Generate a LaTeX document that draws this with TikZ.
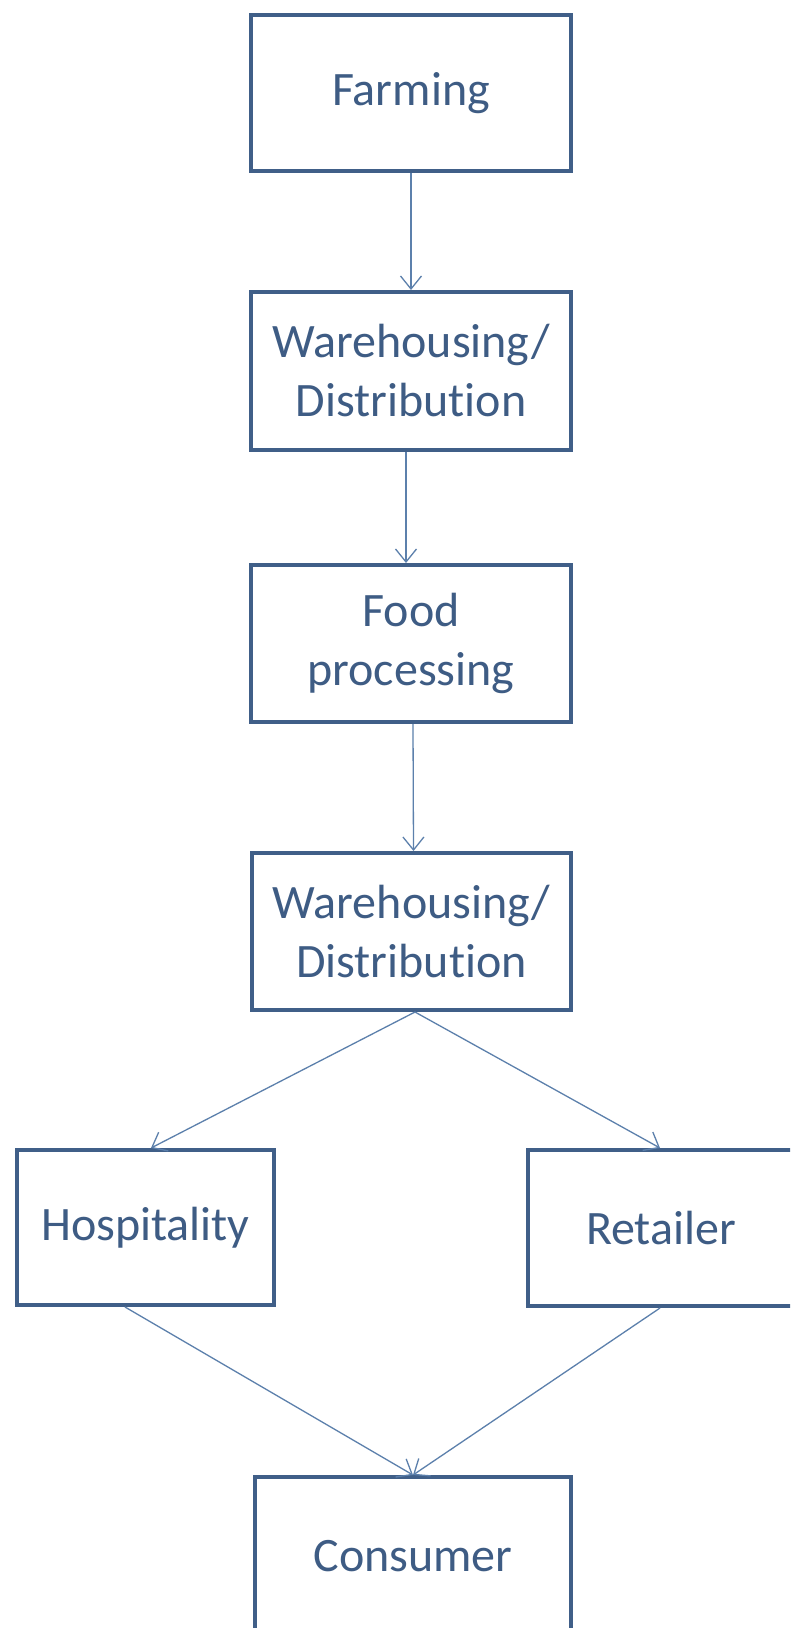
\documentclass[tikz,border=0pt]{standalone}
\usepackage{fontspec}
\setmainfont{Carlito}[Ligatures={NoCommon,NoContextual}]
\usetikzlibrary{arrows.meta}
\definecolor{boxline}{RGB}{64,95,136}
\definecolor{boxtext}{RGB}{62,92,132}
\definecolor{flowline}{RGB}{92,128,172}
\begin{document}
\begin{tikzpicture}[x=1pt,y=-1pt,
  stage/.style={draw=boxline,line width=4pt,fill=white,text=boxtext,
    align=center,inner sep=0pt,
    font=\fontsize{48}{59}\selectfont},
  flow/.style={draw=flowline,line width=1.3pt,
    -{Straight Barb[length=13pt,width=21pt,line width=1.3pt]}}]
\useasboundingbox (0,0) rectangle (790,1628);
\clip (0,0) rectangle (790,1628);
\fill[white] (0,0) rectangle (790,1628);

% supply chain stages
\node[stage,minimum width=320pt,minimum height=156pt] (farm) at (411,93) {Farming};
\node[stage,minimum width=320pt,minimum height=158pt] (wh1) at (411,371) {Warehousing/\\Distribution};
\node[stage,minimum width=320pt,minimum height=157pt] (food) at (411,643.5) {Food\\processing};
\node[stage,minimum width=319pt,minimum height=157pt] (wh2) at (411.5,931.5) {Warehousing/\\Distribution};
\node[stage,minimum width=257pt,minimum height=155pt] (hosp) at (145.5,1227.5) {Hospitality};
\node[stage,minimum width=282pt,minimum height=156pt,text width=282pt] (retail) at (669,1228) {\hspace*{-16pt}Retailer};
\node[stage,minimum width=316pt,minimum height=158pt] (cons) at (413,1556) {Consumer};

% connectors
\draw[flow] (farm) -- (wh1);
\draw[flow] ([xshift=-5pt]wh1.south) -- ([xshift=-5pt]food.north);
\draw[flow] ([xshift=2pt]food.south) -- ([xshift=2pt]wh2.north);
\draw[flow] ([xshift=3.5pt]wh2.south) -- ([xshift=5.5pt]hosp.north);
\draw[flow] ([xshift=3.5pt]wh2.south) -- ([xshift=-9pt]retail.north);
\draw[flow] ([xshift=-20.5pt]hosp.south) -- (cons.north);
\draw[flow] ([xshift=-9pt]retail.south) -- (cons.north);
\end{tikzpicture}
\end{document}
